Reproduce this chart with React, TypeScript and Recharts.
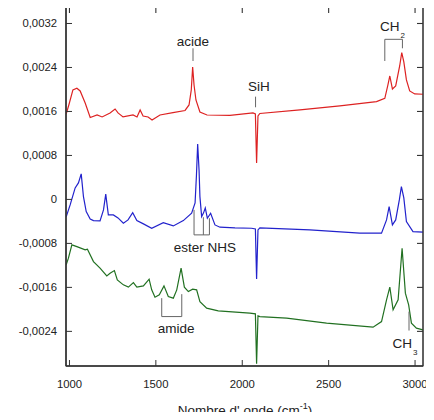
import { LineChart, Line, XAxis, YAxis, ReferenceLine, ReferenceDot, ReferenceArea } from "recharts";

// wavenumber (cm-1) / absorbance
const redX = [981, 998, 1020, 1043, 1062, 1091, 1120, 1160, 1189, 1235, 1264, 1281, 1310, 1368, 1391, 1409, 1426, 1455, 1478, 1524, 1599, 1669, 1692, 1705, 1713, 1721, 1732, 1755, 1796, 1929, 2062, 2076, 2083, 2091, 2102, 2334, 2565, 2777, 2825, 2843, 2854, 2869, 2888, 2911, 2923, 2935, 2950, 2969, 2998, 3046];
const redY = [0.001554, 0.001736, 0.001991, 0.002022, 0.001973, 0.001754, 0.001491, 0.001536, 0.0015, 0.001573, 0.001645, 0.001573, 0.0015, 0.001536, 0.0015, 0.001627, 0.001518, 0.0015, 0.001445, 0.001536, 0.001578, 0.001618, 0.001718, 0.001991, 0.002409, 0.002082, 0.001809, 0.001591, 0.001536, 0.001527, 0.001573, 0.001554, 0.000664, 0.001518, 0.001563, 0.001627, 0.0017, 0.001778, 0.00184, 0.002082, 0.002245, 0.002009, 0.002064, 0.002427, 0.002669, 0.0025, 0.002173, 0.001973, 0.001918, 0.001913];

const blueX = [981, 1004, 1033, 1052, 1068, 1081, 1097, 1120, 1139, 1177, 1197, 1210, 1225, 1254, 1281, 1312, 1339, 1366, 1390, 1428, 1476, 1543, 1601, 1659, 1707, 1727, 1735, 1742, 1750, 1755, 1765, 1776, 1786, 1798, 1817, 1842, 1871, 1958, 2054, 2076, 2083, 2091, 2102, 2391, 2680, 2806, 2835, 2850, 2869, 2888, 2909, 2921, 2935, 2950, 2988, 3046];
const blueY = [-0.000318, -0.0001, 0.000209, 0.0003, 0.000464, 0.000051, -0.000222, -0.000355, -0.000385, -0.000391, -0.000191, 0.000095, -0.000282, -0.000282, -0.000336, -0.000433, -0.000373, -0.00024, -0.000385, -0.000445, -0.000524, -0.000422, -0.000482, -0.000385, -0.000251, -0.000064, 0.000445, 0.001009, 0.000536, 0.000051, -0.000313, -0.000245, -0.000155, -0.000342, -0.000251, -0.000464, -0.000505, -0.000518, -0.000524, -0.000536, -0.001445, -0.000555, -0.000518, -0.000555, -0.000614, -0.000614, -0.000373, -0.000131, -0.000464, -0.000373, -0.000009, 0.000233, 0.000027, -0.000404, -0.000585, -0.000596];

const greenX = [981, 994, 1014, 1043, 1091, 1104, 1139, 1177, 1216, 1235, 1260, 1277, 1312, 1341, 1370, 1390, 1428, 1461, 1476, 1495, 1520, 1547, 1572, 1601, 1621, 1646, 1665, 1688, 1713, 1736, 1755, 1794, 1861, 2044, 2076, 2083, 2091, 2102, 2257, 2488, 2757, 2806, 2835, 2854, 2873, 2902, 2925, 2944, 2963, 2979, 3008, 3046];
const greenY = [-0.001191, -0.001069, -0.000827, -0.000858, -0.000918, -0.000905, -0.001131, -0.001251, -0.001391, -0.001342, -0.001294, -0.001464, -0.001554, -0.001596, -0.001513, -0.001596, -0.001573, -0.001451, -0.001645, -0.001778, -0.001736, -0.001573, -0.001767, -0.001796, -0.001645, -0.001251, -0.001596, -0.001676, -0.001633, -0.001645, -0.001858, -0.001978, -0.002027, -0.002069, -0.002082, -0.00299, -0.002118, -0.002131, -0.00216, -0.002251, -0.002323, -0.002222, -0.001827, -0.001596, -0.002009, -0.001827, -0.000887, -0.001705, -0.001918, -0.002251, -0.002342, -0.002373];

const xTicks = [1000, 1500, 2000, 2500, 3000];
const yTicks = [-0.0024, -0.0016, -0.0008, 0, 0.0008, 0.0016, 0.0024, 0.0032];

const X_DOMAIN = [980, 3046];
const Y_DOMAIN = [-0.00303, 0.0035];

// chart box (same numbers as the LineChart props below)
const W = 434;
const H = 420;
const PLOT = { left: 66, right: W - 11, top: 7, bottom: H - 54 };

const toRows = (xs: number[], ys: number[]) => xs.map((x, i) => ({ x, y: ys[i] }));
const red = toRows(redX, redY);
const blue = toRows(blueX, blueY);
const green = toRows(greenX, greenY);

const FONT = "Liberation Sans, Arial, sans-serif";
const AXIS = "#333333";
const NOTE = "#666666";

const fmtY = (v: number) => (v === 0 ? "0" : v.toFixed(4).replace(".", ","));

// ticks point inward, labels only on the bottom / left
const BottomTick = ({ x, y, payload }: any) => (
  <g>
    <line x1={x} x2={x} y1={y} y2={y - 6} stroke={AXIS} />
    <text x={x} y={y + 22} textAnchor="middle" fontSize={11.3} fill="#222" fontFamily={FONT}>
      {payload.value}
    </text>
  </g>
);
const LeftTick = ({ x, y, payload }: any) => (
  <g>
    <line x1={x} x2={x + 6} y1={y} y2={y} stroke={AXIS} />
    <text x={x - 9} y={y + 4} textAnchor="end" fontSize={11.3} fill="#222" fontFamily={FONT}>
      {fmtY(payload.value)}
    </text>
  </g>
);

const note = (main: string, sub?: string) => (p: any) => (
  <text x={p.cx} y={p.cy} textAnchor="middle" dominantBaseline="central" fontSize={13.5} fill="#222" fontFamily={FONT}>
    {main}
    {sub && (
      <tspan fontSize={8} dx={1} dy={8}>
        {sub}
      </tspan>
    )}
  </text>
);

const seg = (x1: number, y1: number, x2: number, y2: number) => (
  <ReferenceLine
    key={`${x1}-${y1}-${x2}-${y2}`}
    segment={[{ x: x1, y: y1 }, { x: x2, y: y2 }]}
    stroke={NOTE}
    strokeWidth={1}
    ifOverflow="visible"
  />
);

// mirrored top / right ticks, laid over the chart
function Frame() {
  const sx = (v: number) =>
    PLOT.left + ((v - X_DOMAIN[0]) / (X_DOMAIN[1] - X_DOMAIN[0])) * (PLOT.right - PLOT.left);
  const sy = (v: number) =>
    PLOT.top + ((Y_DOMAIN[1] - v) / (Y_DOMAIN[1] - Y_DOMAIN[0])) * (PLOT.bottom - PLOT.top);
  return (
    <svg width={W} height={H} style={{ position: "absolute", left: 0, top: 0, pointerEvents: "none", zIndex: 5 }}>
      <rect
        x={PLOT.left}
        y={PLOT.top}
        width={PLOT.right - PLOT.left}
        height={PLOT.bottom - PLOT.top}
        fill="none"
        stroke={AXIS}
        strokeWidth={1.1}
      />
      {xTicks.map((t) => (
        <line key={t} x1={sx(t)} x2={sx(t)} y1={PLOT.top} y2={PLOT.top + 6} stroke={AXIS} strokeWidth={1.1} />
      ))}
      {yTicks.map((t) => (
        <line key={t} x1={PLOT.right} x2={PLOT.right - 6} y1={sy(t)} y2={sy(t)} stroke={AXIS} strokeWidth={1.1} />
      ))}
    </svg>
  );
}

export default function App() {
  return (
    <div style={{ position: "relative", width: W, height: H, margin: -8, background: "#fff" }}>
      <LineChart width={W} height={H} margin={{ top: 7, right: 11, left: 0, bottom: 0 }}>
        <XAxis
          type="number"
          dataKey="x"
          domain={X_DOMAIN}
          ticks={xTicks}
          allowDataOverflow
          height={54}
          tickSize={0}
          tickMargin={0}
          tickLine={false}
          axisLine={{ stroke: AXIS }}
          tick={<BottomTick />}
        />
        <YAxis
          type="number"
          domain={Y_DOMAIN}
          ticks={yTicks}
          allowDataOverflow
          width={66}
          tickSize={0}
          tickMargin={0}
          tickLine={false}
          axisLine={{ stroke: AXIS }}
          tick={<LeftTick />}
        />

        <ReferenceArea
          x1={X_DOMAIN[0]}
          x2={X_DOMAIN[1]}
          y1={Y_DOMAIN[0]}
          y2={Y_DOMAIN[1]}
          fill="none"
          fillOpacity={0}
          stroke={AXIS}
          strokeOpacity={1}
          ifOverflow="visible"
        />

        <Line data={red} dataKey="y" type="linear" stroke="#dd2222" strokeWidth={1.2} dot={false} isAnimationActive={false} />
        <Line data={blue} dataKey="y" type="linear" stroke="#2222cc" strokeWidth={1.2} dot={false} isAnimationActive={false} />
        <Line data={green} dataKey="y" type="linear" stroke="#217021" strokeWidth={1.2} dot={false} isAnimationActive={false} />

        {/* acide */}
        {seg(1715, 0.002749, 1715, 0.002518)}
        <ReferenceDot x={1715} y={0.002869} r={0} shape={note("acide")} ifOverflow="visible" />
        {/* SiH */}
        {seg(2077, 0.001869, 2077, 0.001676)}
        <ReferenceDot x={2096} y={0.002063} r={0} shape={note("SiH")} ifOverflow="visible" />
        {/* CH2 */}
        {seg(2825, 0.002912, 2927, 0.002912)}
        {seg(2825, 0.002912, 2825, 0.002518)}
        {seg(2927, 0.002912, 2927, 0.002749)}
        <ReferenceDot x={2870} y={0.003142} r={0} shape={note("CH", "2")} ifOverflow="visible" />
        {/* ester NHS */}
        {seg(1721, -0.000191, 1721, -0.000645)}
        {seg(1775, -0.000324, 1775, -0.000645)}
        {seg(1810, -0.000342, 1810, -0.000645)}
        {seg(1721, -0.000645, 1810, -0.000645)}
        <ReferenceDot x={1784} y={-0.000876} r={0} shape={note("ester NHS")} ifOverflow="visible" />
        {/* amide */}
        {seg(1534, -0.001796, 1534, -0.002131)}
        {seg(1650, -0.001723, 1650, -0.002131)}
        {seg(1534, -0.002131, 1650, -0.002131)}
        <ReferenceDot x={1617} y={-0.002342} r={0} shape={note("amide")} ifOverflow="visible" />
        {/* CH3 */}
        {seg(2965, -0.00204, 2965, -0.002385)}
        <ReferenceDot x={2942} y={-0.002627} r={0} shape={note("CH", "3")} ifOverflow="visible" />
      </LineChart>
      <Frame />
      <div
        style={{
          position: "absolute",
          left: 245,
          top: 401,
          transform: "translateX(-50%)",
          whiteSpace: "nowrap",
          fontFamily: FONT,
          fontSize: 13.5,
          color: "#222",
        }}
      >
        Nombre d' onde (cm<sup style={{ fontSize: 9 }}>-1</sup>)
      </div>
    </div>
  );
}
